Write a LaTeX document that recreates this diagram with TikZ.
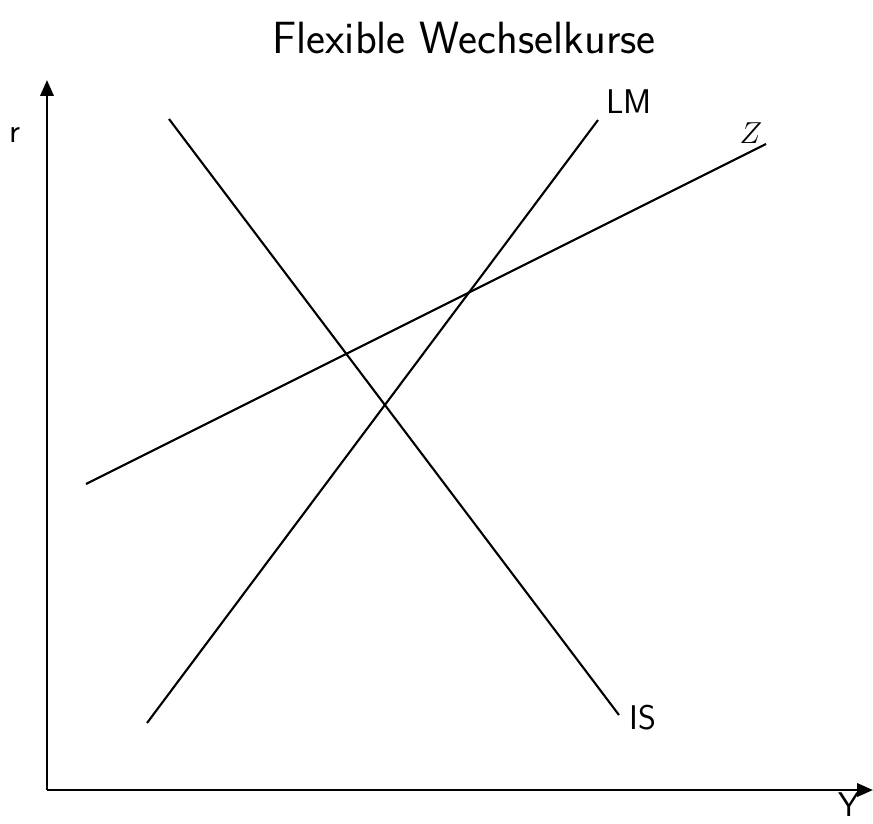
\documentclass[tikz,border=0pt]{standalone}
\usepackage{amsmath}
\usepackage{fontspec}
\usepackage{tikz}
\usetikzlibrary{arrows.meta, positioning}
\renewcommand{\familydefault}{\sfdefault}

\begin{document}
\begin{tikzpicture}[x=0.02cm, y=-0.02cm, >={Triangle[length=9pt, width=7.5pt]}]
    \tikzset{curve/.style={line width=1.2pt, color=black},
             axis/.style={line width=1.5pt, ->},
             lbl/.style={font=\fontsize{19.5}{24}\selectfont, inner sep=0pt}}
    \useasboundingbox (0,0) rectangle (873,823);

    % Title
    \node[font=\fontsize{25.7}{31}\selectfont, inner sep=0pt] (title) at (464,38) {Flexible Wechselkurse};

    % Axes
    \coordinate (origin) at (47,790);
    \coordinate (rtop) at (47,80);
    \coordinate (yend) at (873,790);
    \draw[axis] (origin) -- (rtop);
    \draw[axis] (origin) -- (yend);
    \node[lbl] (rlabel) at (15,135) {r};
    \node[lbl] (ylabel) at (849,805) {Y};

    % LM curve
    \coordinate (lmA) at (147,723);
    \coordinate (lmB) at (598,120);
    \draw[curve] (lmA) -- (lmB);
    \node[lbl] (lmlabel) at (629,102) {LM};

    % IS curve
    \coordinate (isA) at (169,119);
    \coordinate (isB) at (619,715);
    \draw[curve] (isA) -- (isB);
    \node[lbl] (islabel) at (643,718) {IS};

    % Z curve
    \coordinate (zA) at (86,484);
    \coordinate (zB) at (766,144);
    \draw[curve] (zA) -- (zB);
    \node[lbl, font=\fontsize{17}{20}\selectfont] (zlabel) at (751,133) {$Z$};
\end{tikzpicture}
\end{document}
